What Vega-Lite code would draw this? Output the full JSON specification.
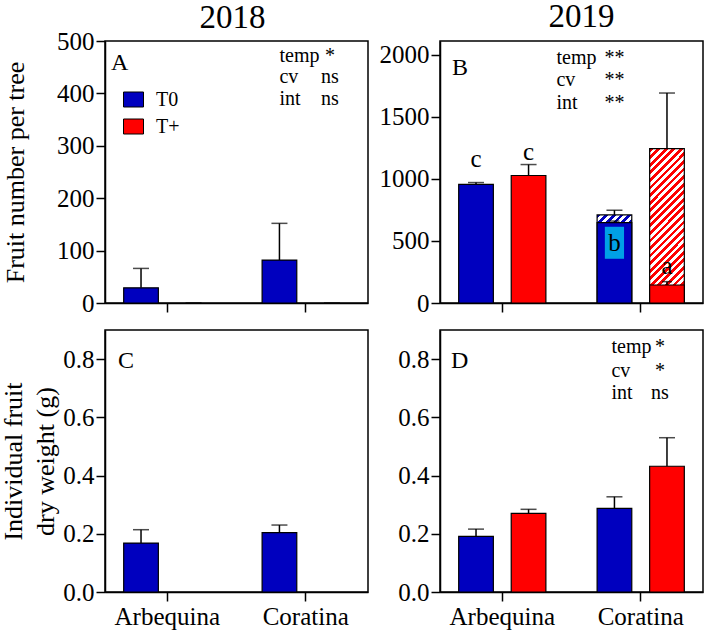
{
  "$schema": "https://vega.github.io/schema/vega-lite/v6.json",
  "padding": {"left": 0, "top": 0, "right": 2, "bottom": 0},
  "config": {
    "font": "Liberation Serif",
    "view": {"stroke": "black", "strokeWidth": 1.5},
    "axis": {
      "domainColor": "black", "domainWidth": 1.5,
      "tickColor": "black", "tickWidth": 1.5, "tickSize": 9,
      "labelFont": "Liberation Serif", "labelFontSize": 25, "labelColor": "black", "labelPadding": 2,
      "titleFont": "Liberation Serif", "titleFontSize": 26, "titleFontWeight": "normal", "titleColor": "black",
      "grid": false
    },
    "axisX": {"labelAngle": 0, "labelPadding": 3, "labelFont": "Liberation Serif"},
    "axisY": {"labelFont": "Liberation Serif"},
    "title": {"font": "Liberation Serif", "fontSize": 33, "fontWeight": "normal", "color": "black", "baseline": "alphabetic", "frame": "group"},
    "text": {"font": "Liberation Serif", "color": "black"}
  },
  "datasets": {
    "bars": [
      {"panel": "A", "cultivar": "Arbequina", "trt": "T0", "mean": 29, "hi": 66},
      {"panel": "A", "cultivar": "Arbequina", "trt": "T+", "mean": 0, "hi": 0},
      {"panel": "A", "cultivar": "Coratina", "trt": "T0", "mean": 82, "hi": 152},
      {"panel": "A", "cultivar": "Coratina", "trt": "T+", "mean": 0, "hi": 0},
      {"panel": "B", "cultivar": "Arbequina", "trt": "T0", "mean": 955, "hi": 970},
      {"panel": "B", "cultivar": "Arbequina", "trt": "T+", "mean": 1027, "hi": 1115},
      {"panel": "B", "cultivar": "Coratina", "trt": "T0", "mean": 709, "hi": 747},
      {"panel": "B", "cultivar": "Coratina", "trt": "T+", "mean": 1243, "hi": 1691},
      {"panel": "C", "cultivar": "Arbequina", "trt": "T0", "mean": 0.168, "hi": 0.214},
      {"panel": "C", "cultivar": "Coratina", "trt": "T0", "mean": 0.204, "hi": 0.23},
      {"panel": "D", "cultivar": "Arbequina", "trt": "T0", "mean": 0.191, "hi": 0.216},
      {"panel": "D", "cultivar": "Arbequina", "trt": "T+", "mean": 0.27, "hi": 0.284},
      {"panel": "D", "cultivar": "Coratina", "trt": "T0", "mean": 0.287, "hi": 0.327},
      {"panel": "D", "cultivar": "Coratina", "trt": "T+", "mean": 0.432, "hi": 0.53}
    ],
    "solid": [
      {"panel": "B", "cultivar": "Coratina", "trt": "T0", "mean": 648, "hi": 660},
      {"panel": "B", "cultivar": "Coratina", "trt": "T+", "mean": 145, "hi": 172}
    ],
    "letters": [
      {"cultivar": "Arbequina", "trt": "T0", "y": 1156, "label": "c", "box": false},
      {"cultivar": "Arbequina", "trt": "T+", "y": 1216, "label": "c", "box": false},
      {"cultivar": "Coratina", "trt": "T0", "y": 485, "label": "b", "box": true},
      {"cultivar": "Coratina", "trt": "T+", "y": 296, "label": "a", "box": false}
    ],
    "stats": [
      {"panel": "A", "term": "temp", "sig": "*", "y": 460},
      {"panel": "A", "term": "cv", "sig": "ns", "y": 419},
      {"panel": "A", "term": "int", "sig": "ns", "y": 378},
      {"panel": "B", "term": "temp", "sig": "**", "y": 1922},
      {"panel": "B", "term": "cv", "sig": "**", "y": 1750},
      {"panel": "B", "term": "int", "sig": "**", "y": 1562},
      {"panel": "D", "term": "temp", "sig": "*", "y": 0.822},
      {"panel": "D", "term": "cv", "sig": "*", "y": 0.739},
      {"panel": "D", "term": "int", "sig": "ns", "y": 0.662}
    ],
    "tags": [
      {"panel": "A", "tag": "A", "y": 445},
      {"panel": "B", "tag": "B", "y": 1840},
      {"panel": "C", "tag": "C", "y": 0.77},
      {"panel": "D", "tag": "D", "y": 0.77}
    ]
  },
  "columns": 2,
  "align": "each",
  "spacing": {"row": 12, "column": 9},
  "resolve": {"scale": {"fill": "independent", "xOffset": "independent"}, "legend": {"fill": "independent"}},
  "concat": [
    {
      "width": 263, "height": 262,
      "title": {"text": "2018", "offset": -6, "dx": -4},
      "encoding": {
        "x": {"field": "cultivar", "type": "nominal", "title": null,
              "scale": {"domain": ["Arbequina", "Coratina"], "paddingInner": 0.37, "paddingOuter": 0.135},
              "axis": {"labels": false}},
        "xOffset": {"field": "trt", "type": "nominal", "scale": {"domain": ["T0", "T+"], "paddingInner": 0.34, "paddingOuter": 0}}
      },
      "layer": [
        {
          "data": {"name": "bars"},
          "transform": [{"filter": "datum.panel == 'A'"}],
          "mark": {"type": "rule", "color": "black", "strokeWidth": 1.5},
          "encoding": {
            "y": {"field": "mean", "type": "quantitative", "scale": {"domain": [0, 500], "nice": false},
                  "title": "Fruit number per tree",
                  "axis": {"values": [0, 100, 200, 300, 400, 500], "format": "d", "labelFont": "Liberation Serif", "titlePadding": 28}},
            "y2": {"field": "hi"}
          }
        },
        {
          "data": {"name": "bars"},
          "transform": [{"filter": "datum.panel == 'A'"}],
          "mark": {"type": "tick", "color": "black", "size": 16, "thickness": 1.5},
          "encoding": {"y": {"field": "hi", "type": "quantitative", "title": "Fruit number per tree"}}
        },
        {
          "data": {"name": "bars"},
          "transform": [{"filter": "datum.panel == 'A' && datum.mean > 0"}],
          "mark": {"type": "bar", "stroke": "black", "strokeWidth": 1.2},
          "encoding": {
            "y": {"field": "mean", "type": "quantitative", "title": "Fruit number per tree"},
            "fill": {"field": "trt", "type": "nominal",
                     "scale": {"domain": ["T0", "T+"], "range": ["#0000BF", "#FF0000"]},
                     "legend": {"orient": "none", "legendX": 18, "legendY": 48, "title": null,
                                "symbolType": "M-1,-0.75H1V0.75H-1Z", "symbolSize": 400,
                                "symbolStrokeColor": "black", "symbolStrokeWidth": 1, "symbolOpacity": 1,
                                "labelFont": "Liberation Serif", "labelFontSize": 20, "labelColor": "black",
                                "labelOffset": 12, "rowPadding": 6}}
          }
        },
        {
          "data": {"name": "stats"},
          "transform": [{"filter": "datum.panel == 'A'"}],
          "mark": {"type": "text", "align": "left", "baseline": "alphabetic", "fontSize": 20, "dx": 0},
          "encoding": {
            "x": {"datum": "Coratina", "type": "nominal", "title": null},
            "xOffset": {"datum": "T0", "type": "nominal"},
            "y": {"field": "y", "type": "quantitative", "title": "Fruit number per tree"},
            "text": {"field": "term"}
          }
        },
        {
          "data": {"name": "stats"},
          "transform": [{"filter": "datum.panel == 'A'"}],
          "mark": {"type": "text", "align": "center", "baseline": "alphabetic", "fontSize": 20, "dx": -2},
          "encoding": {
            "x": {"datum": "Coratina", "type": "nominal", "title": null},
            "xOffset": {"datum": "T+", "type": "nominal"},
            "y": {"field": "y", "type": "quantitative", "title": "Fruit number per tree"},
            "text": {"field": "sig"}
          }
        },
        {
          "data": {"name": "tags"},
          "transform": [{"filter": "datum.panel == 'A'"}],
          "mark": {"type": "text", "align": "left", "baseline": "alphabetic", "fontSize": 24, "dx": -30},
          "encoding": {
            "x": {"datum": "Arbequina", "type": "nominal", "title": null},
            "xOffset": {"datum": "T0", "type": "nominal"},
            "y": {"field": "y", "type": "quantitative", "title": "Fruit number per tree"},
            "text": {"field": "tag"}
          }
        }
      ]
    },
    {
      "width": 263, "height": 262,
      "title": {"text": "2019", "offset": 7, "dx": 10},
      "encoding": {
        "x": {"field": "cultivar", "type": "nominal", "title": null,
              "scale": {"domain": ["Arbequina", "Coratina"], "paddingInner": 0.37, "paddingOuter": 0.135},
              "axis": {"labels": false}},
        "xOffset": {"field": "trt", "type": "nominal", "scale": {"domain": ["T0", "T+"], "paddingInner": 0.34, "paddingOuter": 0}}
      },
      "layer": [
        {
          "data": {"name": "bars"},
          "transform": [{"filter": "datum.panel == 'B'"}],
          "mark": {"type": "rule", "color": "black", "strokeWidth": 1.5},
          "encoding": {
            "y": {"field": "mean", "type": "quantitative", "scale": {"domain": [0, 2110], "nice": false},
                  "title": null,
                  "axis": {"values": [0, 500, 1000, 1500, 2000], "format": "d", "labelFont": "Liberation Serif"}},
            "y2": {"field": "hi"}
          }
        },
        {
          "data": {"name": "bars"},
          "transform": [{"filter": "datum.panel == 'B'"}],
          "mark": {"type": "tick", "color": "black", "size": 16, "thickness": 1.5},
          "encoding": {"y": {"field": "hi", "type": "quantitative", "title": null}}
        },
        {
          "data": {"name": "bars"},
          "transform": [{"filter": "datum.panel == 'B' && datum.cultivar == 'Arbequina'"}],
          "mark": {"type": "bar", "stroke": "black", "strokeWidth": 1.2},
          "encoding": {
            "y": {"field": "mean", "type": "quantitative", "title": null},
            "fill": {"field": "trt", "type": "nominal", "scale": {"domain": ["T0", "T+"], "range": ["#0000BF", "#FF0000"]}, "legend": null}
          }
        },
        {
          "data": {"name": "bars"},
          "transform": [{"filter": "datum.panel == 'B' && datum.cultivar == 'Coratina' && datum.trt == 'T0'"}],
          "mark": {"type": "bar", "stroke": "black", "strokeWidth": 1.2,
                   "fill": {"gradient": "linear", "x1": 0, "y1": 0, "x2": 0.477, "y2": 1.207, "stops": [
                     {"offset": 0, "color": "#0000BF"}, {"offset": 0.03125, "color": "#0000BF"}, {"offset": 0.03125, "color": "white"}, {"offset": 0.0625, "color": "white"},
                     {"offset": 0.0625, "color": "#0000BF"}, {"offset": 0.09375, "color": "#0000BF"}, {"offset": 0.09375, "color": "white"}, {"offset": 0.125, "color": "white"},
                     {"offset": 0.125, "color": "#0000BF"}, {"offset": 0.15625, "color": "#0000BF"}, {"offset": 0.15625, "color": "white"}, {"offset": 0.1875, "color": "white"},
                     {"offset": 0.1875, "color": "#0000BF"}, {"offset": 0.21875, "color": "#0000BF"}, {"offset": 0.21875, "color": "white"}, {"offset": 0.25, "color": "white"},
                     {"offset": 0.25, "color": "#0000BF"}, {"offset": 0.28125, "color": "#0000BF"}, {"offset": 0.28125, "color": "white"}, {"offset": 0.3125, "color": "white"},
                     {"offset": 0.3125, "color": "#0000BF"}, {"offset": 0.34375, "color": "#0000BF"}, {"offset": 0.34375, "color": "white"}, {"offset": 0.375, "color": "white"},
                     {"offset": 0.375, "color": "#0000BF"}, {"offset": 0.40625, "color": "#0000BF"}, {"offset": 0.40625, "color": "white"}, {"offset": 0.4375, "color": "white"},
                     {"offset": 0.4375, "color": "#0000BF"}, {"offset": 0.46875, "color": "#0000BF"}, {"offset": 0.46875, "color": "white"}, {"offset": 0.5, "color": "white"},
                     {"offset": 0.5, "color": "#0000BF"}, {"offset": 0.53125, "color": "#0000BF"}, {"offset": 0.53125, "color": "white"}, {"offset": 0.5625, "color": "white"},
                     {"offset": 0.5625, "color": "#0000BF"}, {"offset": 0.59375, "color": "#0000BF"}, {"offset": 0.59375, "color": "white"}, {"offset": 0.625, "color": "white"},
                     {"offset": 0.625, "color": "#0000BF"}, {"offset": 0.65625, "color": "#0000BF"}, {"offset": 0.65625, "color": "white"}, {"offset": 0.6875, "color": "white"},
                     {"offset": 0.6875, "color": "#0000BF"}, {"offset": 0.71875, "color": "#0000BF"}, {"offset": 0.71875, "color": "white"}, {"offset": 0.75, "color": "white"},
                     {"offset": 0.75, "color": "#0000BF"}, {"offset": 0.78125, "color": "#0000BF"}, {"offset": 0.78125, "color": "white"}, {"offset": 0.8125, "color": "white"},
                     {"offset": 0.8125, "color": "#0000BF"}, {"offset": 0.84375, "color": "#0000BF"}, {"offset": 0.84375, "color": "white"}, {"offset": 0.875, "color": "white"},
                     {"offset": 0.875, "color": "#0000BF"}, {"offset": 0.90625, "color": "#0000BF"}, {"offset": 0.90625, "color": "white"}, {"offset": 0.9375, "color": "white"},
                     {"offset": 0.9375, "color": "#0000BF"}, {"offset": 0.96875, "color": "#0000BF"}, {"offset": 0.96875, "color": "white"}, {"offset": 1, "color": "white"}
                   ]}},
          "encoding": {
            "y": {"field": "mean", "type": "quantitative", "title": null}
          }
        },
        {
          "data": {"name": "bars"},
          "transform": [{"filter": "datum.panel == 'B' && datum.cultivar == 'Coratina' && datum.trt == 'T+'"}],
          "mark": {"type": "bar", "stroke": "black", "strokeWidth": 1.2,
                   "fill": {"gradient": "linear", "x1": 0, "y1": 0, "x2": 0.263, "y2": 1.166, "stops": [
                     {"offset": 0, "color": "#FF0000"}, {"offset": 0.02, "color": "#FF0000"}, {"offset": 0.02, "color": "white"}, {"offset": 0.04, "color": "white"},
                     {"offset": 0.04, "color": "#FF0000"}, {"offset": 0.06, "color": "#FF0000"}, {"offset": 0.06, "color": "white"}, {"offset": 0.08, "color": "white"},
                     {"offset": 0.08, "color": "#FF0000"}, {"offset": 0.1, "color": "#FF0000"}, {"offset": 0.1, "color": "white"}, {"offset": 0.12, "color": "white"},
                     {"offset": 0.12, "color": "#FF0000"}, {"offset": 0.14, "color": "#FF0000"}, {"offset": 0.14, "color": "white"}, {"offset": 0.16, "color": "white"},
                     {"offset": 0.16, "color": "#FF0000"}, {"offset": 0.18, "color": "#FF0000"}, {"offset": 0.18, "color": "white"}, {"offset": 0.2, "color": "white"},
                     {"offset": 0.2, "color": "#FF0000"}, {"offset": 0.22, "color": "#FF0000"}, {"offset": 0.22, "color": "white"}, {"offset": 0.24, "color": "white"},
                     {"offset": 0.24, "color": "#FF0000"}, {"offset": 0.26, "color": "#FF0000"}, {"offset": 0.26, "color": "white"}, {"offset": 0.28, "color": "white"},
                     {"offset": 0.28, "color": "#FF0000"}, {"offset": 0.3, "color": "#FF0000"}, {"offset": 0.3, "color": "white"}, {"offset": 0.32, "color": "white"},
                     {"offset": 0.32, "color": "#FF0000"}, {"offset": 0.34, "color": "#FF0000"}, {"offset": 0.34, "color": "white"}, {"offset": 0.36, "color": "white"},
                     {"offset": 0.36, "color": "#FF0000"}, {"offset": 0.38, "color": "#FF0000"}, {"offset": 0.38, "color": "white"}, {"offset": 0.4, "color": "white"},
                     {"offset": 0.4, "color": "#FF0000"}, {"offset": 0.42, "color": "#FF0000"}, {"offset": 0.42, "color": "white"}, {"offset": 0.44, "color": "white"},
                     {"offset": 0.44, "color": "#FF0000"}, {"offset": 0.46, "color": "#FF0000"}, {"offset": 0.46, "color": "white"}, {"offset": 0.48, "color": "white"},
                     {"offset": 0.48, "color": "#FF0000"}, {"offset": 0.5, "color": "#FF0000"}, {"offset": 0.5, "color": "white"}, {"offset": 0.52, "color": "white"},
                     {"offset": 0.52, "color": "#FF0000"}, {"offset": 0.54, "color": "#FF0000"}, {"offset": 0.54, "color": "white"}, {"offset": 0.56, "color": "white"},
                     {"offset": 0.56, "color": "#FF0000"}, {"offset": 0.58, "color": "#FF0000"}, {"offset": 0.58, "color": "white"}, {"offset": 0.6, "color": "white"},
                     {"offset": 0.6, "color": "#FF0000"}, {"offset": 0.62, "color": "#FF0000"}, {"offset": 0.62, "color": "white"}, {"offset": 0.64, "color": "white"},
                     {"offset": 0.64, "color": "#FF0000"}, {"offset": 0.66, "color": "#FF0000"}, {"offset": 0.66, "color": "white"}, {"offset": 0.68, "color": "white"},
                     {"offset": 0.68, "color": "#FF0000"}, {"offset": 0.7, "color": "#FF0000"}, {"offset": 0.7, "color": "white"}, {"offset": 0.72, "color": "white"},
                     {"offset": 0.72, "color": "#FF0000"}, {"offset": 0.74, "color": "#FF0000"}, {"offset": 0.74, "color": "white"}, {"offset": 0.76, "color": "white"},
                     {"offset": 0.76, "color": "#FF0000"}, {"offset": 0.78, "color": "#FF0000"}, {"offset": 0.78, "color": "white"}, {"offset": 0.8, "color": "white"},
                     {"offset": 0.8, "color": "#FF0000"}, {"offset": 0.82, "color": "#FF0000"}, {"offset": 0.82, "color": "white"}, {"offset": 0.84, "color": "white"},
                     {"offset": 0.84, "color": "#FF0000"}, {"offset": 0.86, "color": "#FF0000"}, {"offset": 0.86, "color": "white"}, {"offset": 0.88, "color": "white"},
                     {"offset": 0.88, "color": "#FF0000"}, {"offset": 0.9, "color": "#FF0000"}, {"offset": 0.9, "color": "white"}, {"offset": 0.92, "color": "white"},
                     {"offset": 0.92, "color": "#FF0000"}, {"offset": 0.94, "color": "#FF0000"}, {"offset": 0.94, "color": "white"}, {"offset": 0.96, "color": "white"},
                     {"offset": 0.96, "color": "#FF0000"}, {"offset": 0.98, "color": "#FF0000"}, {"offset": 0.98, "color": "white"}, {"offset": 1, "color": "white"}
                   ]}},
          "encoding": {
            "y": {"field": "mean", "type": "quantitative", "title": null}
          }
        },
        {
          "data": {"name": "solid"},
          "mark": {"type": "bar", "stroke": "black", "strokeWidth": 1.2},
          "encoding": {
            "y": {"field": "mean", "type": "quantitative", "title": null},
            "fill": {"field": "trt", "type": "nominal", "scale": {"domain": ["T0", "T+"], "range": ["#0000BF", "#FF0000"]}, "legend": null}
          }
        },
        {
          "data": {"name": "solid"},
          "mark": {"type": "rule", "color": "black", "strokeWidth": 1.5},
          "encoding": {
            "y": {"field": "mean", "type": "quantitative", "title": null},
            "y2": {"field": "hi"}
          }
        },
        {
          "data": {"name": "solid"},
          "mark": {"type": "tick", "color": "black", "size": 10, "thickness": 1.5},
          "encoding": {"y": {"field": "hi", "type": "quantitative", "title": null}}
        },
        {
          "data": {"name": "letters"},
          "transform": [{"filter": "datum.box"}],
          "mark": {"type": "point", "shape": "M-0.6,-1H0.6V1H-0.6Z", "size": 1024, "filled": true, "fill": "#00A0E6", "opacity": 1, "strokeWidth": 0},
          "encoding": {
            "x": {"field": "cultivar", "type": "nominal", "title": null},
            "xOffset": {"field": "trt", "type": "nominal"},
            "y": {"field": "y", "type": "quantitative", "title": null}
          }
        },
        {
          "data": {"name": "letters"},
          "mark": {"type": "text", "align": "center", "baseline": "middle", "fontSize": 25},
          "encoding": {
            "x": {"field": "cultivar", "type": "nominal", "title": null},
            "xOffset": {"field": "trt", "type": "nominal"},
            "y": {"field": "y", "type": "quantitative", "title": null},
            "text": {"field": "label"}
          }
        },
        {
          "data": {"name": "stats"},
          "transform": [{"filter": "datum.panel == 'B'"}],
          "mark": {"type": "text", "align": "left", "baseline": "alphabetic", "fontSize": 20, "dx": -58},
          "encoding": {
            "x": {"datum": "Coratina", "type": "nominal", "title": null},
            "xOffset": {"datum": "T0", "type": "nominal"},
            "y": {"field": "y", "type": "quantitative", "title": null},
            "text": {"field": "term"}
          }
        },
        {
          "data": {"name": "stats"},
          "transform": [{"filter": "datum.panel == 'B'"}],
          "mark": {"type": "text", "align": "center", "baseline": "alphabetic", "fontSize": 20, "dx": 0},
          "encoding": {
            "x": {"datum": "Coratina", "type": "nominal", "title": null},
            "xOffset": {"datum": "T0", "type": "nominal"},
            "y": {"field": "y", "type": "quantitative", "title": null},
            "text": {"field": "sig"}
          }
        },
        {
          "data": {"name": "tags"},
          "transform": [{"filter": "datum.panel == 'B'"}],
          "mark": {"type": "text", "align": "left", "baseline": "alphabetic", "fontSize": 24, "dx": -24},
          "encoding": {
            "x": {"datum": "Arbequina", "type": "nominal", "title": null},
            "xOffset": {"datum": "T0", "type": "nominal"},
            "y": {"field": "y", "type": "quantitative", "title": null},
            "text": {"field": "tag"}
          }
        }
      ]
    },
    {
      "width": 263, "height": 262,
      "encoding": {
        "x": {"field": "cultivar", "type": "nominal", "title": null,
              "scale": {"domain": ["Arbequina", "Coratina"], "paddingInner": 0.37, "paddingOuter": 0.135},
              "axis": {"labels": true, "labelFont": "Liberation Serif"}},
        "xOffset": {"field": "trt", "type": "nominal", "scale": {"domain": ["T0", "T+"], "paddingInner": 0.34, "paddingOuter": 0}}
      },
      "layer": [
        {
          "data": {"name": "bars"},
          "transform": [{"filter": "datum.panel == 'C'"}],
          "mark": {"type": "rule", "color": "black", "strokeWidth": 1.5},
          "encoding": {
            "y": {"field": "mean", "type": "quantitative", "scale": {"domain": [0, 0.9], "nice": false},
                  "title": ["Individual fruit", "dry weight (g)"],
                  "axis": {"values": [0, 0.2, 0.4, 0.6, 0.8], "format": ".1f", "labelFont": "Liberation Serif", "titlePadding": 4, "titleLineHeight": 32}},
            "y2": {"field": "hi"}
          }
        },
        {
          "data": {"name": "bars"},
          "transform": [{"filter": "datum.panel == 'C'"}],
          "mark": {"type": "tick", "color": "black", "size": 16, "thickness": 1.5},
          "encoding": {"y": {"field": "hi", "type": "quantitative", "title": ["Individual fruit", "dry weight (g)"]}}
        },
        {
          "data": {"name": "bars"},
          "transform": [{"filter": "datum.panel == 'C'"}],
          "mark": {"type": "bar", "stroke": "black", "strokeWidth": 1.2},
          "encoding": {
            "y": {"field": "mean", "type": "quantitative", "title": ["Individual fruit", "dry weight (g)"]},
            "fill": {"field": "trt", "type": "nominal", "scale": {"domain": ["T0", "T+"], "range": ["#0000BF", "#FF0000"]}, "legend": null}
          }
        },
        {
          "data": {"name": "tags"},
          "transform": [{"filter": "datum.panel == 'C'"}],
          "mark": {"type": "text", "align": "left", "baseline": "alphabetic", "fontSize": 24, "dx": -23},
          "encoding": {
            "x": {"datum": "Arbequina", "type": "nominal", "title": null},
            "xOffset": {"datum": "T0", "type": "nominal"},
            "y": {"field": "y", "type": "quantitative", "title": ["Individual fruit", "dry weight (g)"]},
            "text": {"field": "tag"}
          }
        }
      ]
    },
    {
      "width": 263, "height": 262,
      "encoding": {
        "x": {"field": "cultivar", "type": "nominal", "title": null,
              "scale": {"domain": ["Arbequina", "Coratina"], "paddingInner": 0.37, "paddingOuter": 0.135},
              "axis": {"labels": true, "labelFont": "Liberation Serif"}},
        "xOffset": {"field": "trt", "type": "nominal", "scale": {"domain": ["T0", "T+"], "paddingInner": 0.34, "paddingOuter": 0}}
      },
      "layer": [
        {
          "data": {"name": "bars"},
          "transform": [{"filter": "datum.panel == 'D'"}],
          "mark": {"type": "rule", "color": "black", "strokeWidth": 1.5},
          "encoding": {
            "y": {"field": "mean", "type": "quantitative", "scale": {"domain": [0, 0.9], "nice": false},
                  "title": null,
                  "axis": {"values": [0, 0.2, 0.4, 0.6, 0.8], "format": ".1f", "labelFont": "Liberation Serif"}},
            "y2": {"field": "hi"}
          }
        },
        {
          "data": {"name": "bars"},
          "transform": [{"filter": "datum.panel == 'D'"}],
          "mark": {"type": "tick", "color": "black", "size": 16, "thickness": 1.5},
          "encoding": {"y": {"field": "hi", "type": "quantitative", "title": null}}
        },
        {
          "data": {"name": "bars"},
          "transform": [{"filter": "datum.panel == 'D'"}],
          "mark": {"type": "bar", "stroke": "black", "strokeWidth": 1.2},
          "encoding": {
            "y": {"field": "mean", "type": "quantitative", "title": null},
            "fill": {"field": "trt", "type": "nominal", "scale": {"domain": ["T0", "T+"], "range": ["#0000BF", "#FF0000"]}, "legend": null}
          }
        },
        {
          "data": {"name": "stats"},
          "transform": [{"filter": "datum.panel == 'D'"}],
          "mark": {"type": "text", "align": "left", "baseline": "alphabetic", "fontSize": 20, "dx": -3},
          "encoding": {
            "x": {"datum": "Coratina", "type": "nominal", "title": null},
            "xOffset": {"datum": "T0", "type": "nominal"},
            "y": {"field": "y", "type": "quantitative", "title": null},
            "text": {"field": "term"}
          }
        },
        {
          "data": {"name": "stats"},
          "transform": [{"filter": "datum.panel == 'D'"}],
          "mark": {"type": "text", "align": "center", "baseline": "alphabetic", "fontSize": 20, "dx": -7},
          "encoding": {
            "x": {"datum": "Coratina", "type": "nominal", "title": null},
            "xOffset": {"datum": "T+", "type": "nominal"},
            "y": {"field": "y", "type": "quantitative", "title": null},
            "text": {"field": "sig"}
          }
        },
        {
          "data": {"name": "tags"},
          "transform": [{"filter": "datum.panel == 'D'"}],
          "mark": {"type": "text", "align": "left", "baseline": "alphabetic", "fontSize": 24, "dx": -25},
          "encoding": {
            "x": {"datum": "Arbequina", "type": "nominal", "title": null},
            "xOffset": {"datum": "T0", "type": "nominal"},
            "y": {"field": "y", "type": "quantitative", "title": null},
            "text": {"field": "tag"}
          }
        }
      ]
    }
  ]
}
